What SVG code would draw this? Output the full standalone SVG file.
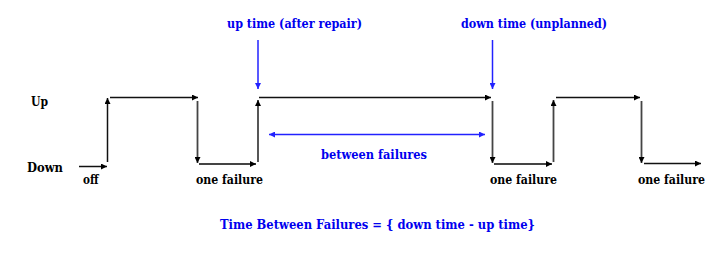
<svg xmlns="http://www.w3.org/2000/svg" width="725" height="254" viewBox="0 0 725 254">
<style>
text{font-family:"DejaVu Serif","Liberation Serif",serif;font-weight:bold;font-size:13.5px}
.k{fill:#000}
.b{fill:#0000ee}
.ln{stroke:#111;stroke-width:1.5;fill:none}
.lg{stroke:#444;stroke-width:1.8;fill:none}
.lb{stroke:#2222ff;stroke-width:1.5;fill:none}
</style>
<defs>
<marker id="ak" viewBox="0 0 10 10" refX="10" refY="5" markerWidth="8" markerHeight="6" markerUnits="userSpaceOnUse" orient="auto-start-reverse"><path d="M0,0L10,5L0,10z" fill="#000"/></marker>
<marker id="ab" viewBox="0 0 10 10" refX="10" refY="5" markerWidth="8" markerHeight="6" markerUnits="userSpaceOnUse" orient="auto-start-reverse"><path d="M0,0L10,5L0,10z" fill="#2222ff"/></marker>
</defs>
<g id="labels">
<text class="k" x="31" y="106" textLength="17" lengthAdjust="spacingAndGlyphs">Up</text>
<text class="k" x="27" y="172" textLength="36" lengthAdjust="spacingAndGlyphs">Down</text>
<text class="k" x="83" y="184" textLength="15.5" lengthAdjust="spacingAndGlyphs">off</text>
<text class="k" x="196" y="184" textLength="67" lengthAdjust="spacingAndGlyphs">one failure</text>
<text class="k" x="490" y="184" textLength="67" lengthAdjust="spacingAndGlyphs">one failure</text>
<text class="k" x="638" y="184" textLength="67" lengthAdjust="spacingAndGlyphs">one failure</text>
<text class="b" x="227" y="28" textLength="135" lengthAdjust="spacingAndGlyphs">up time (after repair)</text>
<text class="b" x="461" y="28" textLength="146" lengthAdjust="spacingAndGlyphs">down time (unplanned)</text>
<text class="b" x="321" y="159" textLength="106" lengthAdjust="spacingAndGlyphs">between failures</text>
<text class="b" x="220" y="229" textLength="315" lengthAdjust="spacingAndGlyphs">Time Between Failures = { down time - up time}</text>
</g>
<g id="connectors">
<line class="ln" x1="79" y1="166.5" x2="107" y2="166.5" marker-end="url(#ak)"/>
<line class="ln" x1="107.5" y1="162" x2="107.5" y2="98" marker-end="url(#ak)"/>
<line class="ln" x1="110" y1="97.5" x2="198" y2="97.5" marker-end="url(#ak)"/>
<line class="lg" x1="197.5" y1="101" x2="197.5" y2="163" marker-end="url(#ak)"/>
<line class="lg" x1="199" y1="164" x2="256" y2="164" marker-end="url(#ak)"/>
<line class="lg" x1="258" y1="162" x2="258" y2="100" marker-end="url(#ak)"/>
<line class="ln" x1="259" y1="97.5" x2="491" y2="97.5" marker-end="url(#ak)"/>
<line class="lb" x1="258" y1="40" x2="258" y2="89" marker-end="url(#ab)"/>
<line class="lb" x1="492.5" y1="40" x2="492.5" y2="89" marker-end="url(#ab)"/>
<line class="lb" x1="269" y1="134.5" x2="485" y2="134.5" marker-start="url(#ab)" marker-end="url(#ab)"/>
<line class="lg" x1="492.5" y1="101" x2="492.5" y2="163" marker-end="url(#ak)"/>
<line class="lg" x1="494" y1="164" x2="552" y2="164" marker-end="url(#ak)"/>
<line class="lg" x1="553.5" y1="162" x2="553.5" y2="100" marker-end="url(#ak)"/>
<line class="ln" x1="556" y1="97.5" x2="640" y2="97.5" marker-end="url(#ak)"/>
<line class="lg" x1="641.5" y1="101" x2="641.5" y2="163" marker-end="url(#ak)"/>
<line class="ln" x1="644" y1="163.5" x2="701" y2="163.5" marker-end="url(#ak)"/>
</g>
</svg>
